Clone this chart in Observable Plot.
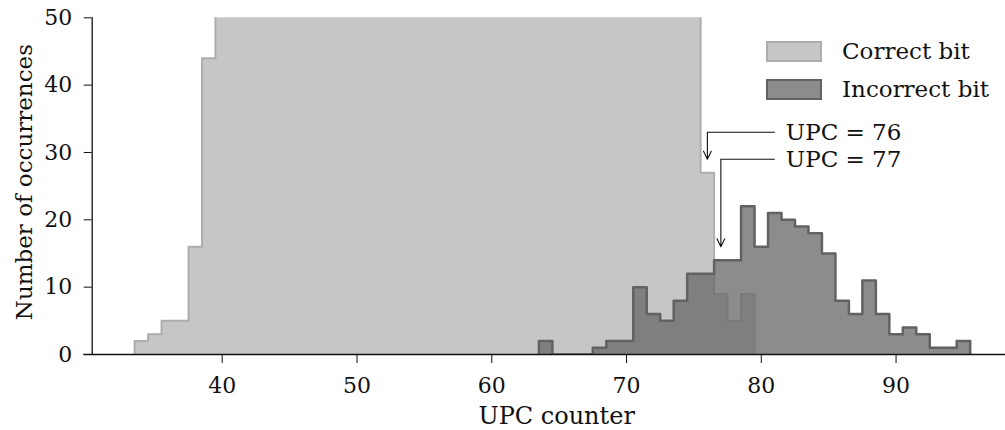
<!DOCTYPE html>
<html><head><meta charset="utf-8">
<script src="https://cdn.jsdelivr.net/npm/d3@7"></script>
<script src="https://cdn.jsdelivr.net/npm/@observablehq/plot@0.6"></script>
<style>
html,body{margin:0;padding:0;background:#fff;}
#wrap{position:relative;width:1005px;height:430px;font-family:"DejaVu Serif",serif;color:#111;}
.leg{position:absolute;left:766px;display:flex;align-items:center;font-size:23px;height:22px;}
.sw{width:52px;height:17px;margin-right:20px;}
</style></head><body><div id="wrap"></div>
<script>
// ---- data ----
const xTicks = [40, 50, 60, 70, 80, 90];
const yTicks = [0, 10, 20, 30, 40, 50];
const xDomain = [29.73, 98.12];
const yDomain = [0, 50];

// Correct bit histogram: bin centres (UPC counter) and counts (bins 40-75 run off the top of the chart; estimated)
const correctBins = d3.range(34, 80);
const correctCounts = [2, 3, 5, 5, 16, 44,
  78, 120, 170, 230, 290, 350, 400, 440, 470, 490,
  500, 505, 500, 490, 475, 455, 430, 400, 370, 340,
  305, 270, 240, 210, 180, 155, 130, 110, 95, 85,
  75, 68, 62, 58, 55, 52,
  27, 9, 5, 9];

// Incorrect bit histogram
const incorrectBins = d3.range(64, 96);
const incorrectCounts = [2, 0, 0, 0, 1, 2, 2, 10, 6, 5,
  8, 12, 12, 14, 14, 22, 16, 21, 20, 19,
  18, 15, 8, 6, 11, 6, 3, 4, 3, 1,
  1, 2];

// Annotations
const annLabels = ["UPC = 76", "UPC = 77"];
const annTargetX = [76, 77];
const annTargetY = [29, 16];
const annElbowY = [33, 29];
const annFromX = 81;

const seriesNames = ["Correct bit", "Incorrect bit"];

// ---- build step outlines ----
function steps(centers, counts) {
  const pts = [{x: centers[0] - 0.5, y: 0}];
  centers.forEach((c, i) => pts.push({x: c - 0.5, y: counts[i]}));
  pts.push({x: centers[centers.length - 1] + 0.5, y: 0});
  return pts;
}
const cPts = steps(correctBins, correctCounts);
const iPts = steps(incorrectBins, incorrectCounts);

const ann = annLabels.map((t, i) => ({label: t, tx: annTargetX[i], ty: annTargetY[i], ey: annElbowY[i], fx: annFromX}));

const chart = Plot.plot({
  width: 1005,
  height: 430,
  marginLeft: 83.3,
  marginRight: 0,
  marginTop: 17.3,
  marginBottom: 76,
  style: {fontFamily: "DejaVu Serif, serif", fontSize: "22px", color: "#111", background: "transparent"},
  x: {domain: xDomain},
  y: {domain: yDomain},
  marks: [
    Plot.areaY(cPts, {x: "x", y1: 0, y2: "y", curve: "step-after", fill: "#c6c6c6", clip: true}),
    Plot.lineY(cPts, {x: "x", y: "y", curve: "step-after", stroke: "#adadad", strokeWidth: 2, clip: true}),
    Plot.areaY(iPts, {x: "x", y1: 0, y2: "y", curve: "step-after", fill: "#6a6a6a", fillOpacity: 0.77, clip: true}),
    Plot.lineY(iPts, {x: "x", y: "y", curve: "step-after", stroke: "#626262", strokeWidth: 2.5, clip: true}),
    Plot.ruleY([0], {stroke: "#111", strokeWidth: 1.3}),
    Plot.ruleX([xDomain[0]], {dx: 8.4, stroke: "#111", strokeWidth: 1.3}),
    Plot.axisX({ticks: xTicks, tickSize: 9, tickPadding: 14, label: null, fontSize: 22, stroke: "#111"}),
    Plot.axisY({ticks: yTicks, tickSize: 8, tickPadding: 12, dx: 8.4, label: null, fontSize: 22, stroke: "#111"}),
    Plot.link(ann, {x1: "fx", y1: "ey", x2: "tx", y2: "ey", stroke: "#111", strokeWidth: 1.1}),
    Plot.arrow(ann, {x1: "tx", y1: "ey", x2: "tx", y2: "ty", stroke: "#111", strokeWidth: 1.1, headLength: 12, headAngle: 52}),
    Plot.text(ann, {x: "fx", y: "ey", text: "label", dx: 11, textAnchor: "start", lineAnchor: "middle", fontSize: 23, fill: "#111"}),
    Plot.text(["UPC counter"], {frameAnchor: "bottom", textAnchor: "middle", dx: 12, dy: 69, lineAnchor: "bottom", fontSize: 24, fill: "#111"}),
    Plot.text(["Number of occurrences"], {frameAnchor: "left", textAnchor: "middle", rotate: -90, dx: -51.6, dy: -4, lineAnchor: "bottom", fontSize: 23, fill: "#111"})
  ]
});

const wrap = document.getElementById("wrap");
wrap.appendChild(chart);
chart.style.position = "absolute";
chart.style.left = "0";
chart.style.top = "0";

const legStyles = [
  {bg: "#c6c6c6", border: "#adadad", top: 40},
  {bg: "#8c8c8c", border: "#626262", top: 78}
];
seriesNames.forEach((name, i) => {
  const d = document.createElement("div");
  d.className = "leg";
  d.style.top = legStyles[i].top + "px";
  const sw = document.createElement("div");
  sw.className = "sw";
  sw.style.background = legStyles[i].bg;
  sw.style.border = "2px solid " + legStyles[i].border;
  const t = document.createElement("span");
  t.textContent = name;
  d.appendChild(sw);
  d.appendChild(t);
  wrap.appendChild(d);
});
</script>
</body></html>
